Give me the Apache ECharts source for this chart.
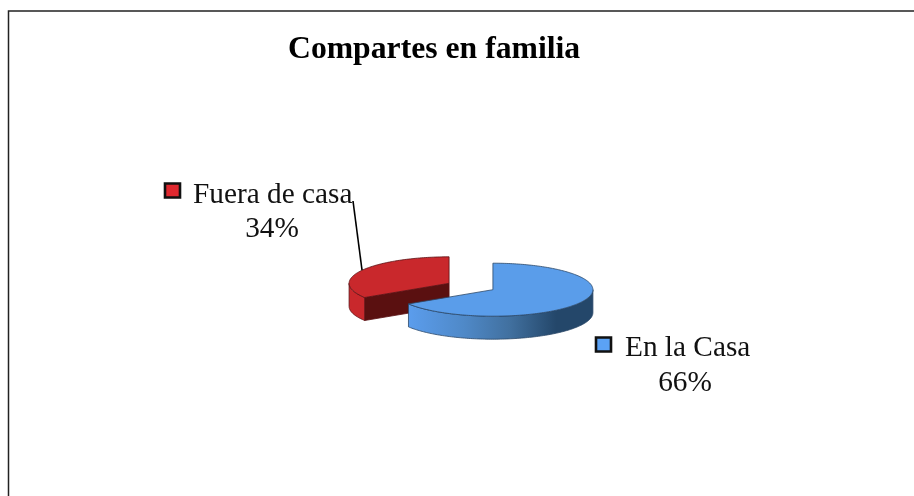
<!DOCTYPE html>
<html><head><meta charset="utf-8">
<style>html,body{margin:0;padding:0;background:#fff}#c{width:914px;height:496px}</style>
<script src="https://cdn.jsdelivr.net/npm/echarts@6/dist/echarts.min.js"></script>
</head><body><div id="c"></div>
<script>
const titleText = 'Compartes en familia';
const categories = ['En la Casa', 'Fuera de casa'];
const values = [66, 34];

// Presentation settings
const PIE = {cx: 471, cy: 286.5, rx: 100, ry: 26.5, depth: 23, explode: 25};
const SERIF = '"Liberation Serif","Times New Roman",serif';
const LOOK = [
  {top: '#5a9dea', edge: '#2b4768', inner: '#24476a', key: '#5ba2f5', z: 20,
   wall: [[0, '#5b9ded'], [0.3, '#4f89c8'], [0.55, '#41709f'], [0.8, '#24476a'], [1, '#24476a']],
   labelAt: [625, 348.5], pctAt: [685, 383.5], keyAt: [596, 337.5], leader: null},
  {top: '#c9282c', edge: '#5a1214', inner: '#5a1010', key: '#e0282f', z: 10,
   wall: [[0, '#c9282c'], [1, '#c9282c']],
   labelAt: [193, 195], pctAt: [272, 229], keyAt: [165, 183.5],
   leader: [[353, 201], [362, 270]]}
];

const total = values.reduce((a, b) => a + b, 0);
function renderSlice(params, api) {
  const i = params.dataIndex, val = api.value(0), look = LOOK[i];
  let before = 0;
  for (let k = 0; k < i; k++) before += values[k];
  const a0 = before / total * 2 * Math.PI, a1 = (before + val) / total * 2 * Math.PI;
  const mid = (a0 + a1) / 2;
  const cx = PIE.cx + Math.sin(mid) * PIE.explode;
  const cy = PIE.cy - Math.cos(mid) * PIE.explode * PIE.ry / PIE.rx;
  const pt = (a, dz) => [cx + Math.sin(a) * PIE.rx, cy - Math.cos(a) * PIE.ry + (dz || 0)];
  const arc = (s, e, dz) => {
    const n = Math.max(2, Math.ceil((e - s) / 0.02)), out = [];
    for (let j = 0; j <= n; j++) out.push(pt(s + (e - s) * j / n, dz));
    return out;
  };
  const children = [];
  const edgeStyle = {stroke: look.edge, lineWidth: 0.8};
  // inner (cut) walls facing the viewer
  [[a0, -Math.sin(a0)], [a1, Math.sin(a1)]].forEach(([a, facing]) => {
    if (facing > 1e-6) children.push({type: 'polygon', z2: look.z,
      shape: {points: [[cx, cy], pt(a), pt(a, PIE.depth), [cx, cy + PIE.depth]]},
      style: Object.assign({fill: look.inner}, edgeStyle)});
  });
  // outer rim: the part of the slice on the near side of the ellipse
  const s = Math.max(a0, Math.PI / 2), e = Math.min(a1, 3 * Math.PI / 2);
  if (e > s) children.push({type: 'polygon', z2: look.z + 1,
    shape: {points: arc(s, e, 0).concat(arc(s, e, PIE.depth).reverse())},
    style: Object.assign({fill: {type: 'linear', x: 0, y: 0, x2: 1, y2: 0,
      colorStops: look.wall.map(([offset, color]) => ({offset, color}))}}, edgeStyle)});
  // top face
  children.push({type: 'polygon', z2: look.z + 2,
    shape: {points: [[cx, cy]].concat(arc(a0, a1, 0))},
    style: Object.assign({fill: look.top}, edgeStyle)});
  // leader line
  if (look.leader) children.push({type: 'polyline', z2: 30, shape: {points: look.leader},
    style: {stroke: '#000', lineWidth: 1.6, fill: null}});
  // key + label
  children.push({type: 'rect', z2: 30,
    shape: {x: look.keyAt[0], y: look.keyAt[1], width: 15, height: 14},
    style: {fill: look.key, stroke: '#111', lineWidth: 2.6}});
  children.push({type: 'text', z2: 30, style: {x: look.labelAt[0], y: look.labelAt[1], text: categories[i],
    font: '29.3px ' + SERIF, fill: '#111', align: 'left', verticalAlign: 'middle'}});
  children.push({type: 'text', z2: 30, style: {x: look.pctAt[0], y: look.pctAt[1], text: Math.round(val) + '%',
    font: '29.3px ' + SERIF, fill: '#111', align: 'center', verticalAlign: 'middle'}});
  return {type: 'group', children};
}

const chart = echarts.init(document.getElementById('c'), null, {renderer: 'canvas'});
chart.setOption({
  backgroundColor: '#fff',
  animation: false,
  title: {text: titleText, left: 283, top: 29, padding: 5,
    textStyle: {fontFamily: SERIF, fontWeight: 'bold', fontSize: 31.7, color: '#000'}},
  graphic: [
    {type: 'polyline', silent: true, shape: {points: [[8.5, 496], [8.5, 11], [914, 11]]},
     style: {stroke: '#222', lineWidth: 1.5, fill: null}}
  ],
  series: [{
    type: 'custom', coordinateSystem: 'none', clip: false,
    renderItem: renderSlice,
    data: values.map((v, i) => ({name: categories[i], value: [v]}))
  }]
});
</script></body></html>
